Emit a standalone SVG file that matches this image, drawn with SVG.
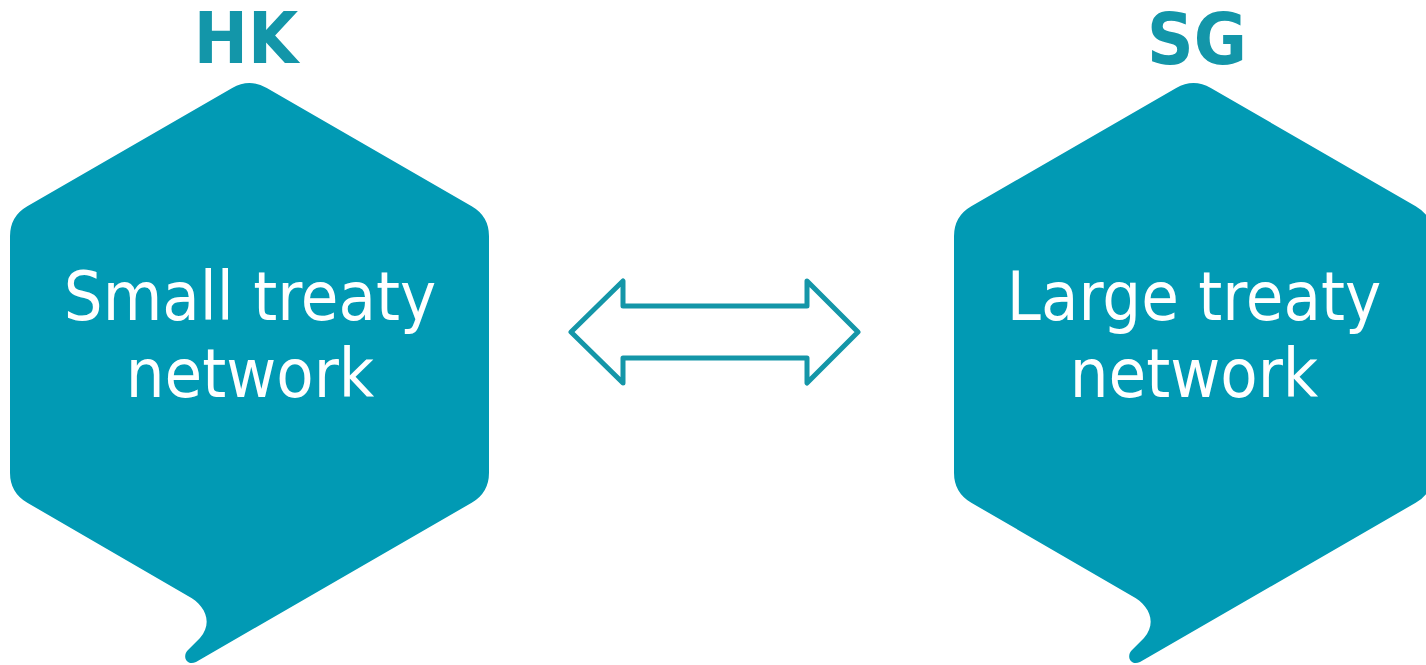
<svg xmlns="http://www.w3.org/2000/svg" xmlns:xlink="http://www.w3.org/1999/xlink" width="1426" height="665" viewBox="0 0 1426 665">
  <style>
    .hex { fill: #019AB4; }
    .title { font-family: "DejaVu Sans Condensed", "DejaVu Sans", sans-serif; font-stretch: condensed; font-weight: bold; font-size: 72px; fill: #1396A9; text-anchor: middle; }
    .body { font-family: "DejaVu Sans Condensed", "DejaVu Sans", sans-serif; font-stretch: condensed; font-size: 68px; fill: #FFFFFF; text-anchor: middle; }
    .arrow { fill: none; stroke: #1496A8; stroke-width: 5; stroke-linejoin: round; }
  </style>
  <defs>
    <path id="hexShape" d="M 27.3,206.25 L 232.2,88 Q 249.5,78 266.8,88 L 471.7,206.25 Q 489,216.25 489,236.25 L 489,472.75 Q 489,492.75 471.7,502.75 L 196,662 C 186,666 182,656 188,650 L 200,638 C 214,622 204,604 188,596 L 27.3,502.75 Q 10,492.75 10,472.75 L 10,236.25 Q 10,216.25 27.3,206.25 Z"/>
  </defs>
  <g id="node-hk">
    <use xlink:href="#hexShape" class="hex"/>
    <text class="title" x="246" y="63">HK</text>
    <text class="body" x="250" y="320">Small treaty</text>
    <text class="body" x="250" y="397">network</text>
  </g>
  <g id="node-sg">
    <use xlink:href="#hexShape" class="hex" transform="translate(944,0)"/>
    <text class="title" x="1197" y="64">SG</text>
    <text class="body" x="1194" y="320">Large treaty</text>
    <text class="body" x="1194" y="397">network</text>
  </g>
  <g id="connectors">
    <polygon class="arrow" points="571,332 623,281 623,306 807,306 807,281 858,332 807,383 807,358 623,358 623,383"/>
  </g>
</svg>
